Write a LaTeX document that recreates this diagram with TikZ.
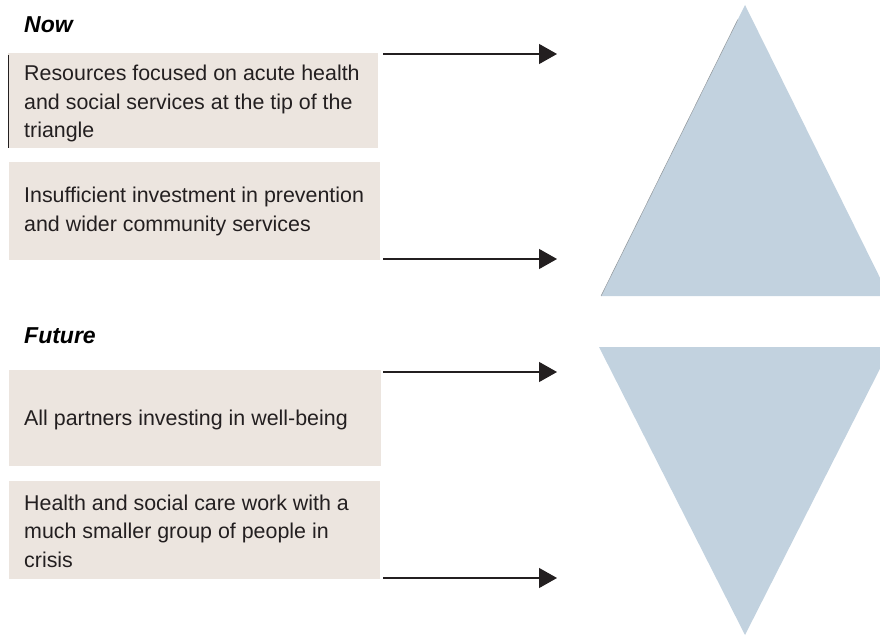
\documentclass[tikz,border=0pt]{standalone}
\usepackage{fontspec}
\setmainfont{Liberation Sans}
\usetikzlibrary{arrows.meta,calc}
\definecolor{boxfill}{HTML}{ECE5DF}
\definecolor{trifill}{HTML}{C2D2DF}
\definecolor{ink}{HTML}{231F20}
\tikzset{
  textbox/.style={fill=boxfill, draw=none},
  bodytext/.style={anchor=base west, inner sep=0pt, text=ink,
    font=\fontsize{21.4}{28.5}\selectfont},
  headtext/.style={anchor=base west, inner sep=0pt, text=black,
    font=\fontsize{23}{28}\selectfont\bfseries\itshape},
  arrowline/.style={draw=ink, line width=1.3pt,
    -{Triangle[length=18pt,width=20pt]}},
  tri/.style={fill=trifill, draw=none}
}
\newcommand{\boxlines}[1]{\parbox[t]{360pt}{\raggedright\baselineskip=28.5pt #1}}
\begin{document}
\begin{tikzpicture}[x=1pt,y=-1pt]
\useasboundingbox (0,0) rectangle (880,636);
\clip (0,0) rectangle (880,636);

% headings
\node[headtext] (now) at (24,33) {Now};
\node[headtext] (future) at (24,343) {Future};

% text boxes
\path[textbox] (8,53) rectangle (378,148);
\draw[ink, line width=1pt] (8.5,55) -- (8.5,148);
\node[bodytext] (t1) at (24,81) {\boxlines{Resources focused on acute health\\and social services at the tip of the\\triangle}};

\path[textbox] (9,162) rectangle (380,260);
\node[bodytext] (t2) at (24,203) {\boxlines{Insufficient investment in prevention\\and wider community services}};

\path[textbox] (9,370) rectangle (381,466);
\node[bodytext] (t3) at (24,425) {\boxlines{All partners investing in well-being}};

\path[textbox] (9,481) rectangle (380,579);
\node[bodytext] (t4) at (24,510) {\boxlines{Health and social care work with a\\much smaller group of people in\\crisis}};

% arrow anchor points
\coordinate (a1s) at (383,54);  \coordinate (a1e) at (557,54);
\coordinate (a2s) at (383,259); \coordinate (a2e) at (557,259);
\coordinate (a3s) at (383,372); \coordinate (a3e) at (557,372);
\coordinate (a4s) at (383,578); \coordinate (a4e) at (557,578);
\draw[arrowline] (a1s) -- (a1e);
\draw[arrowline] (a2s) -- (a2e);
\draw[arrowline] (a3s) -- (a3e);
\draw[arrowline] (a4s) -- (a4e);

% triangles
\coordinate (p1) at (601,296);
\coordinate (p2) at (745,5);
\coordinate (p3) at (889,296);
\path[tri] (p1) -- (p2) -- (p3) -- cycle;
\draw[gray!70!trifill, line width=0.5pt] (p1) -- ($(p1)!0.95!(p2)$);

\coordinate (q1) at (599,347);
\coordinate (q2) at (891,347);
\coordinate (q3) at (745,635);
\path[tri] (q1) -- (q2) -- (q3) -- cycle;
\end{tikzpicture}
\end{document}
